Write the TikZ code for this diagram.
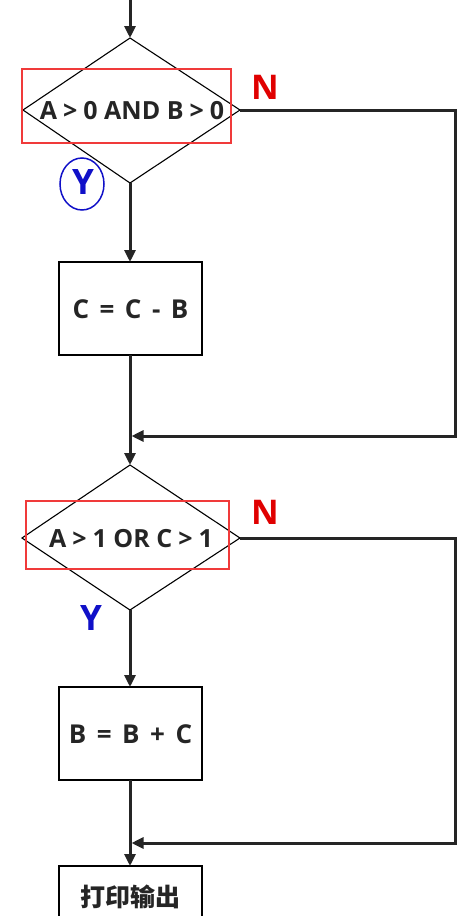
\documentclass[tikz,border=0pt]{standalone}
\usepackage{fontspec}
\setmainfont{Open Sans}
\newfontfamily\cjk{Noto Sans CJK SC}
\usetikzlibrary{arrows.meta,shapes.geometric}
\definecolor{ink}{HTML}{252525}
\definecolor{redbox}{HTML}{F03A3A}
\definecolor{ylab}{HTML}{1010C8}
\definecolor{nlab}{HTML}{E00000}
\newcommand\wgap{\hspace{10.5pt}}
\newcommand\dgap{\hspace{6pt}}
\begin{document}
\begin{tikzpicture}[x=1pt,y=-1pt,
  flow/.style={draw=ink,line width=3pt,-{Triangle[length=12pt,width=11pt]}},
  dec/.style={draw=black,line width=1.1pt},
  proc/.style={draw=black,line width=1.3pt,fill=white},
  txt/.style={font=\fontsize{25}{28}\selectfont\bfseries,text=ink},
  btxt/.style={font=\fontsize{26}{28}\selectfont\bfseries,text=ink},
  hl/.style={draw=redbox,line width=2.8pt},
  nl/.style={font=\fontsize{34}{36}\selectfont\bfseries,text=nlab},
  yl/.style={font=\fontsize{35}{36}\selectfont\bfseries,text=ylab}]
\useasboundingbox (0,0) rectangle (474,916);
\clip (0,0) rectangle (474,916);
\fill[white] (0,0) rectangle (474,916);
% shapes
\coordinate (start) at (130,-2);
\draw[dec] (130,38) coordinate (d1t) -- (240,110) coordinate (d1r) -- (130,183) coordinate (d1b) -- (23,110) coordinate (d1l) -- cycle;
\node[txt] (d1) at (132,111) {A\dgap>\dgap0 AND B\dgap>\dgap0};
\draw[hl] (22,69) rectangle (231,143);
\draw[dec] (130,465) coordinate (d2t) -- (240,538) coordinate (d2r) -- (130,610) coordinate (d2b) -- (22,538) coordinate (d2l) -- cycle;
\node[txt] (d2) at (131,539) {A\dgap>\dgap1 OR C\dgap>\dgap1};
\draw[hl] (26,501) rectangle (229,569);
\draw[proc] (59,262) rectangle (202,355);
\node[btxt] (p1) at (130.5,309) {C\wgap=\wgap C\wgap-\wgap B};
\coordinate (p1t) at (130,262); \coordinate (p1b) at (130,355);
\draw[proc] (59,687) rectangle (202,780);
\node[btxt] (p2) at (130.5,734) {B\wgap=\wgap B\wgap+\wgap C};
\coordinate (p2t) at (130,687); \coordinate (p2b) at (130,780);
\draw[proc] (59,866) rectangle (202,960);
\node[btxt,font=\cjk\fontsize{25}{28}\selectfont\bfseries] (p3) at (130.5,897) {打印输出};
\coordinate (p3t) at (130,866);
% labels
\node[nl] (n1) at (265,87) {N};
\node[yl] (y1) at (83,182) {Y};
\draw[draw=ylab,line width=1.5pt] (82,184) ellipse [x radius=22pt,y radius=26pt];
\node[nl] (n2) at (265,512) {N};
\node[yl] (y2) at (91,618) {Y};
% connectors
\coordinate (m1) at (130,436);
\coordinate (m2) at (130,843);
\draw[flow] (start) -- (d1t);
\draw[flow] (d1b) -- (p1t);
\draw[flow] (p1b) -- (d2t);
\draw[flow] (d1r) -- (455,110) -- (455,436) -- ([xshift=1.5pt]m1);
\draw[flow] (d2b) -- (p2t);
\draw[flow] (p2b) -- (p3t);
\draw[flow] (d2r) -- (455,538) -- (455,843) -- ([xshift=1.5pt]m2);
\end{tikzpicture}
\end{document}
